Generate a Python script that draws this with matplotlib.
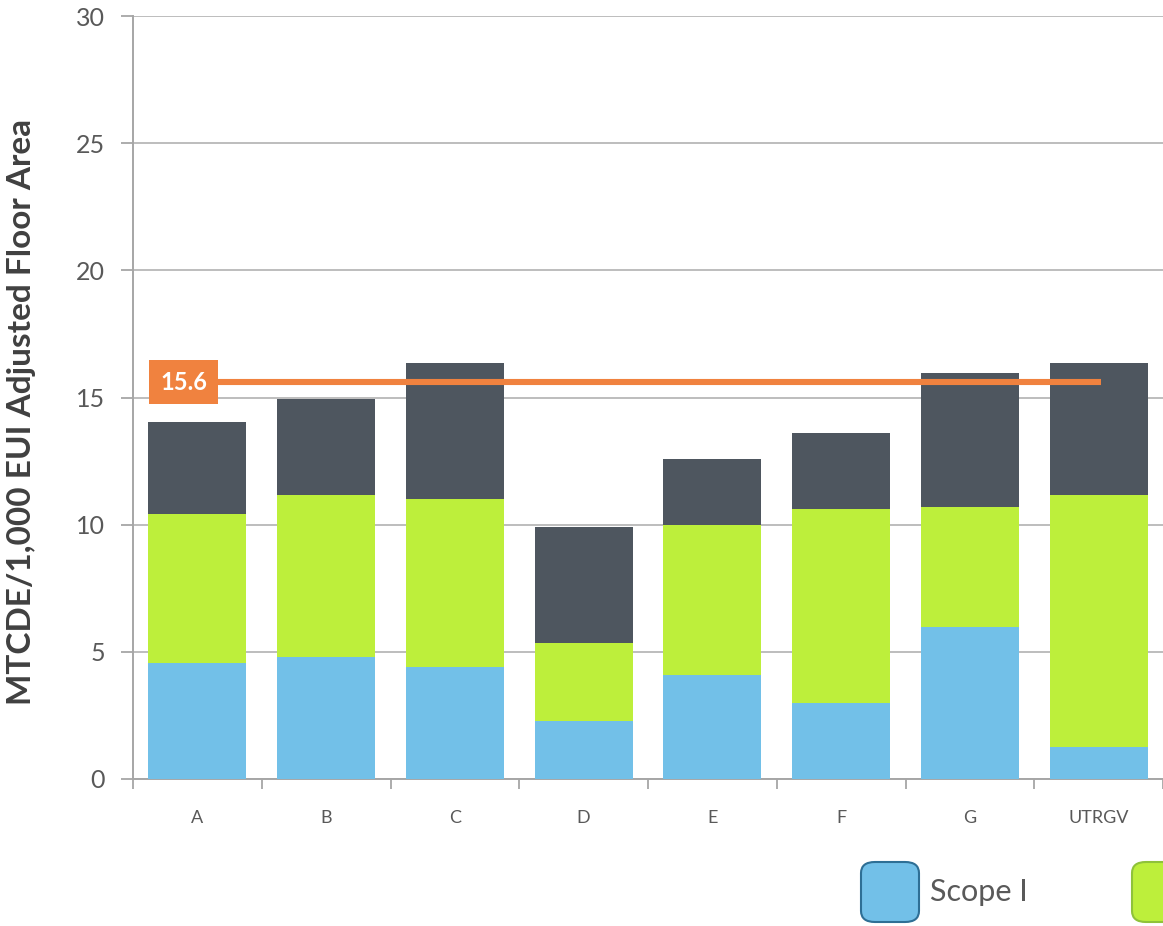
import matplotlib
matplotlib.use("Agg")
import numpy as np
import matplotlib.pyplot as plt
from matplotlib.patches import FancyBboxPatch

plt.rcParams['font.family'] = ['Lato', 'DejaVu Sans']

# emissions per 1,000 EUI adjusted floor area, stacked by scope
sites = ['A', 'B', 'C', 'D', 'E', 'F', 'G', 'UTRGV']
scope1 = [4.56, 4.80, 4.40, 2.28, 4.09, 2.99, 5.98, 1.26]
scope2 = [5.86, 6.37, 6.61, 3.07, 5.90, 7.63, 4.72, 9.91]
scope3 = [3.62, 3.77, 5.35, 4.56, 2.59, 2.99, 5.27, 5.19]
average = 15.6
avg_label = '15.6'

blue = '#72C0E8'
green = '#BDEF3B'
dark = '#4E565F'
orange = '#F0823F'
grid_gray = '#BDBDBD'
text_gray = '#595959'

fig = plt.figure(figsize=(11.63, 9.26), dpi=100)
ax = fig.add_axes([133 / 1163, 147 / 926, 1 - 133 / 1163, 763 / 926])

x = np.arange(len(sites))
s1 = np.array(scope1)
s2 = np.array(scope2)
s3 = np.array(scope3)
w = 0.76
ax.bar(x, s1, w, color=blue, zorder=3)
ax.bar(x, s2, w, bottom=s1, color=green, zorder=3)
ax.bar(x, s3, w, bottom=s1 + s2, color=dark, zorder=3)

# average line with its boxed label
ax.plot([-0.37, 7.02], [average, average], color=orange, lw=4.4,
        solid_capstyle='butt', zorder=4)
ax.text(-0.29, average, avg_label, color='white', fontsize=17, fontweight='bold',
        ha='left', va='center', zorder=5,
        bbox=dict(boxstyle='square,pad=0.45', fc=orange, ec='none'))

ax.set_xlim(-0.5, len(sites) - 0.5)
ax.set_ylim(0, 30)
ax.set_yticks(range(0, 31, 5))
ax.set_xticks(x)
ax.set_xticklabels(sites, fontsize=13, color=text_gray)
ax.set_xticks(np.arange(-0.5, len(sites), 1), minor=True)
ax.tick_params(axis='x', which='major', length=0, pad=22)
ax.tick_params(axis='x', which='minor', length=7, width=1.3, color='#A6A6A6',
               direction='out')
ax.tick_params(axis='y', labelsize=18, colors=text_gray, length=9, width=1.3,
               direction='out', pad=11)
ax.tick_params(axis='y', color='#A6A6A6')
ax.yaxis.grid(True, color=grid_gray, lw=1.4, zorder=0)

for side in ['top', 'right']:
    ax.spines[side].set_visible(False)
for side in ['left', 'bottom']:
    ax.spines[side].set_color('#A6A6A6')
    ax.spines[side].set_linewidth(1.4)

fig.text(22 / 1163, 0.555, 'MTCDE/1,000 EUI Adjusted Floor Area', rotation=90,
         ha='center', va='center', fontsize=24, fontweight='bold', color='#404040')

# legend swatches along the bottom
def swatch(x0, color, edge):
    fig.patches.append(FancyBboxPatch(
        (x0 / 1163, (926 - 922) / 926), 58 / 1163, 60 / 926,
        boxstyle='round,pad=0,rounding_size=0.012', transform=fig.transFigure,
        fc=color, ec=edge, lw=1.5))

swatch(861, blue, '#2E6F95')
fig.text(930 / 1163, (926 - 892) / 926, 'Scope I', fontsize=22, color=text_gray,
         ha='left', va='center')
swatch(1132, green, '#8FC23A')

fig.savefig('out.png', dpi=100)
